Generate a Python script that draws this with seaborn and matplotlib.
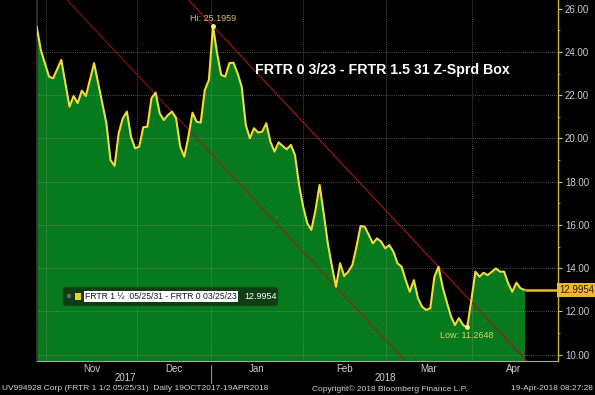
import matplotlib
matplotlib.use("Agg")
import matplotlib.pyplot as plt
import matplotlib.transforms as mtransforms
from matplotlib.patches import FancyBboxPatch, Rectangle
from matplotlib.ticker import FixedLocator, MultipleLocator, FormatStrFormatter, NullFormatter
import numpy as np
import pandas as pd
import seaborn as sns

# Z-spread, one value per trading session (session 0 = first shown day)
session = [0, 1, 3, 4, 6, 8, 9, 10, 11, 12, 14, 15, 17, 18, 19, 20, 21, 22, 23, 24,
           25, 26, 27, 28, 29, 30, 31, 32, 33, 34, 35, 36, 37, 38, 39, 40, 41, 42, 43, 44,
           45, 46, 47, 48, 49, 50, 51, 52, 53, 54, 55, 56, 57, 58, 59, 60, 61, 62, 63, 64,
           65, 66, 67, 68, 69, 70, 71, 72, 73, 74, 75, 76, 77, 78, 79, 80, 81, 82, 83, 84,
           85, 86, 87, 88, 89, 90, 91, 92, 93, 94, 95, 96, 97, 98, 99, 100, 101, 102, 103, 104,
           105, 106, 107, 108, 109, 110, 112, 113, 114, 115, 116, 117, 118, 119]
spread = [25.17, 24.09, 22.86, 22.78, 23.63, 21.47, 21.96, 21.63, 22.21, 21.96, 23.48, 22.55, 20.70, 19.00, 18.73, 20.24, 20.93, 21.24, 20.08, 19.54,
          19.62, 20.52, 20.54, 21.86, 22.12, 21.16, 20.85, 21.08, 21.24, 20.93, 19.62, 19.16, 20.08, 21.19, 20.77, 20.73, 22.24, 22.70, 25.1959, 23.94,
          22.93, 22.86, 23.48, 23.50, 23.01, 22.39, 20.62, 20.01, 20.47, 20.27, 20.31, 20.70, 19.85, 19.39, 19.82, 19.65, 19.50, 19.70, 19.23, 17.85,
          16.84, 16.08, 15.77, 16.69, 17.85, 16.54, 15.15, 14.10, 13.14, 14.23, 13.64, 13.84, 14.15, 15.00, 15.95, 15.92, 15.54, 15.15, 15.38, 15.23,
          14.92, 15.07, 14.76, 14.23, 14.07, 13.45, 12.91, 13.45, 12.61, 12.22, 12.07, 12.15, 13.60, 14.07, 13.14, 12.45, 11.80, 11.37, 11.69, 11.37,
          11.2648, 12.50, 13.84, 13.61, 13.79, 13.68, 13.99, 13.84, 13.84, 13.30, 12.91, 13.33, 13.07, 12.9954]

month_edges = [2.3, 24.5, 42.5, 65.0, 85.2, 106.2, 126.4]
month_labels = ['Nov', 'Dec', 'Jan', 'Feb', 'Mar', 'Apr']
year_labels = ['2017', '2018']
year_pos = [21.5, 85.0]
year_split = 42.5
y_ticks = [10, 12, 14, 16, 18, 20, 22, 24, 26]

# trend channel: upper line through the high and the March peak, lower one parallel through the Feb low
upper_a, upper_b, lower_a = 43, 98, 73

title = 'FRTR 0 3/23 - FRTR 1.5 31 Z-Sprd Box'
legend_label = 'FRTR 1 \u00bd  05/25/31 - FRTR 0 03/25/23'
footer_left = 'UV994928 Corp (FRTR 1 1/2 05/25/31)  Daily 19OCT2017-19APR2018'
footer_mid = 'Copyright\u00a9 2018 Bloomberg Finance L.P.'
footer_right = '19-Apr-2018 08:27:28'

df = pd.DataFrame({'session': session, 'spread': spread})
s = df.set_index('session')['spread']

sns.set_theme(style='dark')
plt.rcParams['font.family'] = ['Liberation Sans', 'DejaVu Sans']

W, H = 595, 395
fx = lambda px: px / W
fy = lambda py: 1 - py / H

fig = plt.figure(figsize=(5.95, 3.95), dpi=100, facecolor='black')
ax = fig.add_axes([fx(36.7), fy(361), (558 - 36.7) / W, 361 / H])
ax.set_facecolor('black')

xmin, xmax = 0, 127.15
ymin, ymax = 9.71, 26.40

ax.fill_between(df['session'], df['spread'], ymin, color='#067a1c', lw=0, zorder=1)
sns.lineplot(data=df, x='session', y='spread', color='#f2dc3c', lw=1.5, ax=ax, zorder=3)

# trend channel
slope = (s[upper_b] - s[upper_a]) / (upper_b - upper_a)
xs = np.array([xmin, xmax])
ax.plot(xs, s[upper_a] + slope * (xs - upper_a), color='#a31818', lw=1, alpha=0.85, zorder=2.5)
ax.plot(xs, s[lower_a] + slope * (xs - lower_a), color='#a31818', lw=1, alpha=0.7, zorder=2.5)

# last value line to the axis
last = df['spread'].iloc[-1]
ax.plot([df['session'].iloc[-1], xmax], [last, last], color='#f3b62f', lw=1.8, zorder=3,
        solid_capstyle='butt', clip_on=False)

ax.set_xlim(xmin, xmax)
ax.set_ylim(ymin, ymax)
ax.set_xlabel('')
ax.set_ylabel('')

# grid
ax.grid(False)
for y in y_ticks[:-1]:
    ax.axhline(y, color='#9a9a9a', lw=0.6, ls=(0, (1, 1.5)), alpha=0.7, zorder=1.5)
for x in month_edges[:-1]:
    ax.axvline(x, color='#9a9a9a', lw=0.6, ls=(0, (1, 1.5)), alpha=0.7, zorder=1.5)

# right axis
ax.yaxis.tick_right()
ax.set_yticks(y_ticks)
ax.yaxis.set_major_formatter(FormatStrFormatter('%.2f'))
ax.yaxis.set_minor_locator(MultipleLocator(1))
ax.tick_params(axis='y', which='major', colors='#d9c24a', labelcolor='#cfcfcf',
               labelsize=7, length=3, width=0.8, direction='out', pad=2)
ax.tick_params(axis='y', which='minor', colors='#d9c24a', length=1.5, width=0.6, direction='out')

# bottom axis: ticks at month edges, labels in between
centers = [(a + b) / 2 for a, b in zip(month_edges[:-1], month_edges[1:])]
ax.xaxis.set_major_locator(FixedLocator(month_edges))
ax.xaxis.set_major_formatter(NullFormatter())
ax.xaxis.set_minor_locator(FixedLocator(centers))
ax.set_xticklabels(month_labels, minor=True)
ax.tick_params(axis='x', which='major', direction='in', length=3, width=0.8, color='#a0a0a0')
ax.tick_params(axis='x', which='minor', length=0, labelsize=7, labelcolor='#cfcfcf', pad=2)

ax.spines['top'].set_visible(False)
ax.spines['right'].set_color('#c9b544')
ax.spines['right'].set_linewidth(1)
ax.spines['bottom'].set_color('#a8a8a8')
ax.spines['bottom'].set_linewidth(0.8)
ax.spines['left'].set_color('#333333')

# title
ax.text(0.419, 0.806, title, transform=ax.transAxes, color='white', fontweight='bold',
        fontsize=10.2, ha='left', va='center')

# hi / low
hi_x = s.idxmax()
lo_x = s.idxmin()
ax.plot([hi_x, lo_x], [s[hi_x], s[lo_x]], 'o', ms=2.5, color='#f7ef9a', zorder=4)
ax.annotate(f'Hi: {s[hi_x]:.4f}', (hi_x, s[hi_x]), xytext=(0, 2.5), textcoords='offset points',
            ha='center', va='bottom', fontsize=6.5, color='#d8c25c')
ax.annotate(f'Low: {s[lo_x]:.4f}', (lo_x, s[lo_x]), xytext=(0, -2.5), textcoords='offset points',
            ha='center', va='top', fontsize=6.5, color='#d8d070')

# last value tag on the axis
blend_ay = mtransforms.blended_transform_factory(ax.transAxes, ax.transData)
ax.text(1.003, last, f'{last:.4f}', transform=blend_ay, ha='left', va='center', fontsize=7,
        color='#2a1e00', bbox=dict(boxstyle='square,pad=0.25', fc='#f3b62f', ec='none'),
        clip_on=False)

# legend box
fig.add_artist(FancyBboxPatch((fx(63), fy(306)), fx(215), 19 / H,
                              boxstyle='round,pad=0,rounding_size=0.006',
                              transform=fig.transFigure, fc='#0e3f14', ec='#1d5a22', lw=0.6))
fig.add_artist(Rectangle((fx(67), fy(298)), fx(4), 4 / H, transform=fig.transFigure,
                         fc='#5a6a5a', ec='none'))
fig.add_artist(Rectangle((fx(75), fy(300)), fx(6), 7 / H, transform=fig.transFigure,
                         fc='#f0d020', ec='none'))
fig.text(fx(85), fy(296.5), legend_label, fontsize=6.2, color='#1a1a1a', ha='left', va='center',
         bbox=dict(facecolor='white', edgecolor='none', pad=0.8))
fig.text(fx(244), fy(296.5), f'{last:.4f}', fontsize=6.5, color='white', ha='left', va='center')

# years and separator under the axis
blend_xf = mtransforms.blended_transform_factory(ax.transData, fig.transFigure)
for lab, pos in zip(year_labels, year_pos):
    ax.text(pos, fy(378), lab, transform=blend_xf, ha='center', va='center', fontsize=7,
            color='#cfcfcf', clip_on=False)
ax.plot([year_split, year_split], [fy(365), fy(383)], transform=blend_xf, color='#909090',
        lw=0.8, clip_on=False)

# footer
fig.text(fx(2), fy(389), footer_left, fontsize=6, color='#d0d0d0', ha='left', va='center')
fig.text(fx(312), fy(389), footer_mid, fontsize=6, color='#d0d0d0', ha='left', va='center')
fig.text(fx(593), fy(389), footer_right, fontsize=6, color='#d0d0d0', ha='right', va='center')

fig.savefig('out.png', dpi=100, facecolor='black')
